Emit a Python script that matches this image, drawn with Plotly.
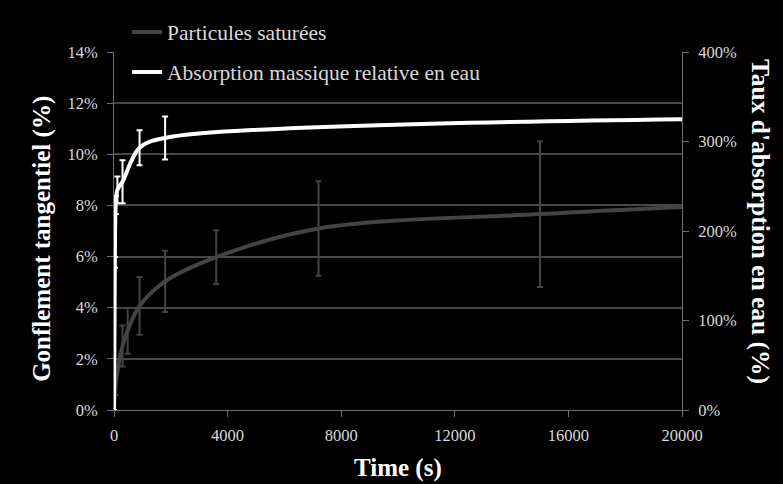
import plotly.graph_objects as go

# ---- data ----
time_grey = [0, 60, 300, 480, 900, 1800, 3600, 7200, 15000, 20000]
swelling = [0, 1.0, 2.5, 3.1, 4.07, 5.03, 5.98, 7.1, 7.66, 7.94]
swelling_err = [0, 0.4, 0.8, 0.9, 1.13, 1.2, 1.05, 1.85, 2.85, 0]

time_white = [0, 30, 60, 120, 300, 900, 1800, 20000]
absorption = [0, 165, 229, 246, 255, 293, 304, 325]
absorption_err = [0, 6, 10, 15, 24, 19.5, 24, 0]

x_ticks = [0, 4000, 8000, 12000, 16000, 20000]
name_grey = "Particules saturées"
name_white = "Absorption massique relative en eau"

SERIF = "Liberation Serif, Times New Roman, serif"
GREY = "#444444"
TICKC = "#d9d9d9"

fig = go.Figure()
fig.add_trace(go.Scatter(
    x=time_grey, y=swelling, name=name_grey, mode="lines",
    line=dict(color=GREY, width=4, shape="spline"),
    error_y=dict(type="data", array=swelling_err, color=GREY, thickness=2, width=3),
    legendgroup="g1", yaxis="y"))
fig.add_trace(go.Scatter(
    x=time_white, y=absorption, name=name_white, mode="lines",
    line=dict(color="white", width=4, shape="spline"),
    error_y=dict(type="data", array=absorption_err, color="white", thickness=2, width=3),
    legendgroup="g2", yaxis="y2"))

axis_common = dict(showline=True, linecolor="#6e6e6e", linewidth=1, ticks="outside",
                   ticklen=6, tickcolor="#6e6e6e", zeroline=False,
                   tickfont=dict(family=SERIF, size=16.5, color=TICKC))

fig.update_layout(
    width=783, height=484,
    paper_bgcolor="black", plot_bgcolor="black",
    margin=dict(l=114, r=101, t=52, b=74),
    xaxis=dict(range=[0, 20000], tickvals=x_ticks, tickformat="d", showgrid=False,
               ticklabelstandoff=4, **axis_common),
    yaxis=dict(range=[0, 14], dtick=2, ticksuffix="%", showgrid=True,
               gridcolor="#474747", gridwidth=1.5, ticklabelstandoff=6, **axis_common),
    yaxis2=dict(range=[0, 400], dtick=100, ticksuffix="%", overlaying="y", side="right",
                showgrid=False, ticklabelstandoff=6, **axis_common),
    legend=dict(x=0.023, y=1.113, xanchor="left", yanchor="top",
                bgcolor="rgba(0,0,0,0)", tracegroupgap=9, traceorder="grouped",
                font=dict(family=SERIF, size=21.5, color=TICKC)),
    showlegend=True,
    annotations=[
        dict(text="<b>Time (s)</b>", x=0.5, y=-0.162, xref="paper", yref="paper",
             showarrow=False, yanchor="middle", font=dict(family=SERIF, size=25, color="white")),
        dict(text="<b>Gonflement tangentiel (%)</b>", x=-0.1268, y=0.478, xref="paper", yref="paper",
             showarrow=False, textangle=-90, xanchor="center", yanchor="middle",
             font=dict(family=SERIF, size=25, color="white")),
        dict(text="<b>Taux d'absorption en eau (%)</b>", x=1.139, y=0.525, xref="paper", yref="paper",
             showarrow=False, textangle=90, xanchor="center", yanchor="middle",
             font=dict(family=SERIF, size=25.5, color="white")),
    ],
)

fig.write_html("out.html", config={"displayModeBar": False},
               post_script="document.body.style.margin='0';")
